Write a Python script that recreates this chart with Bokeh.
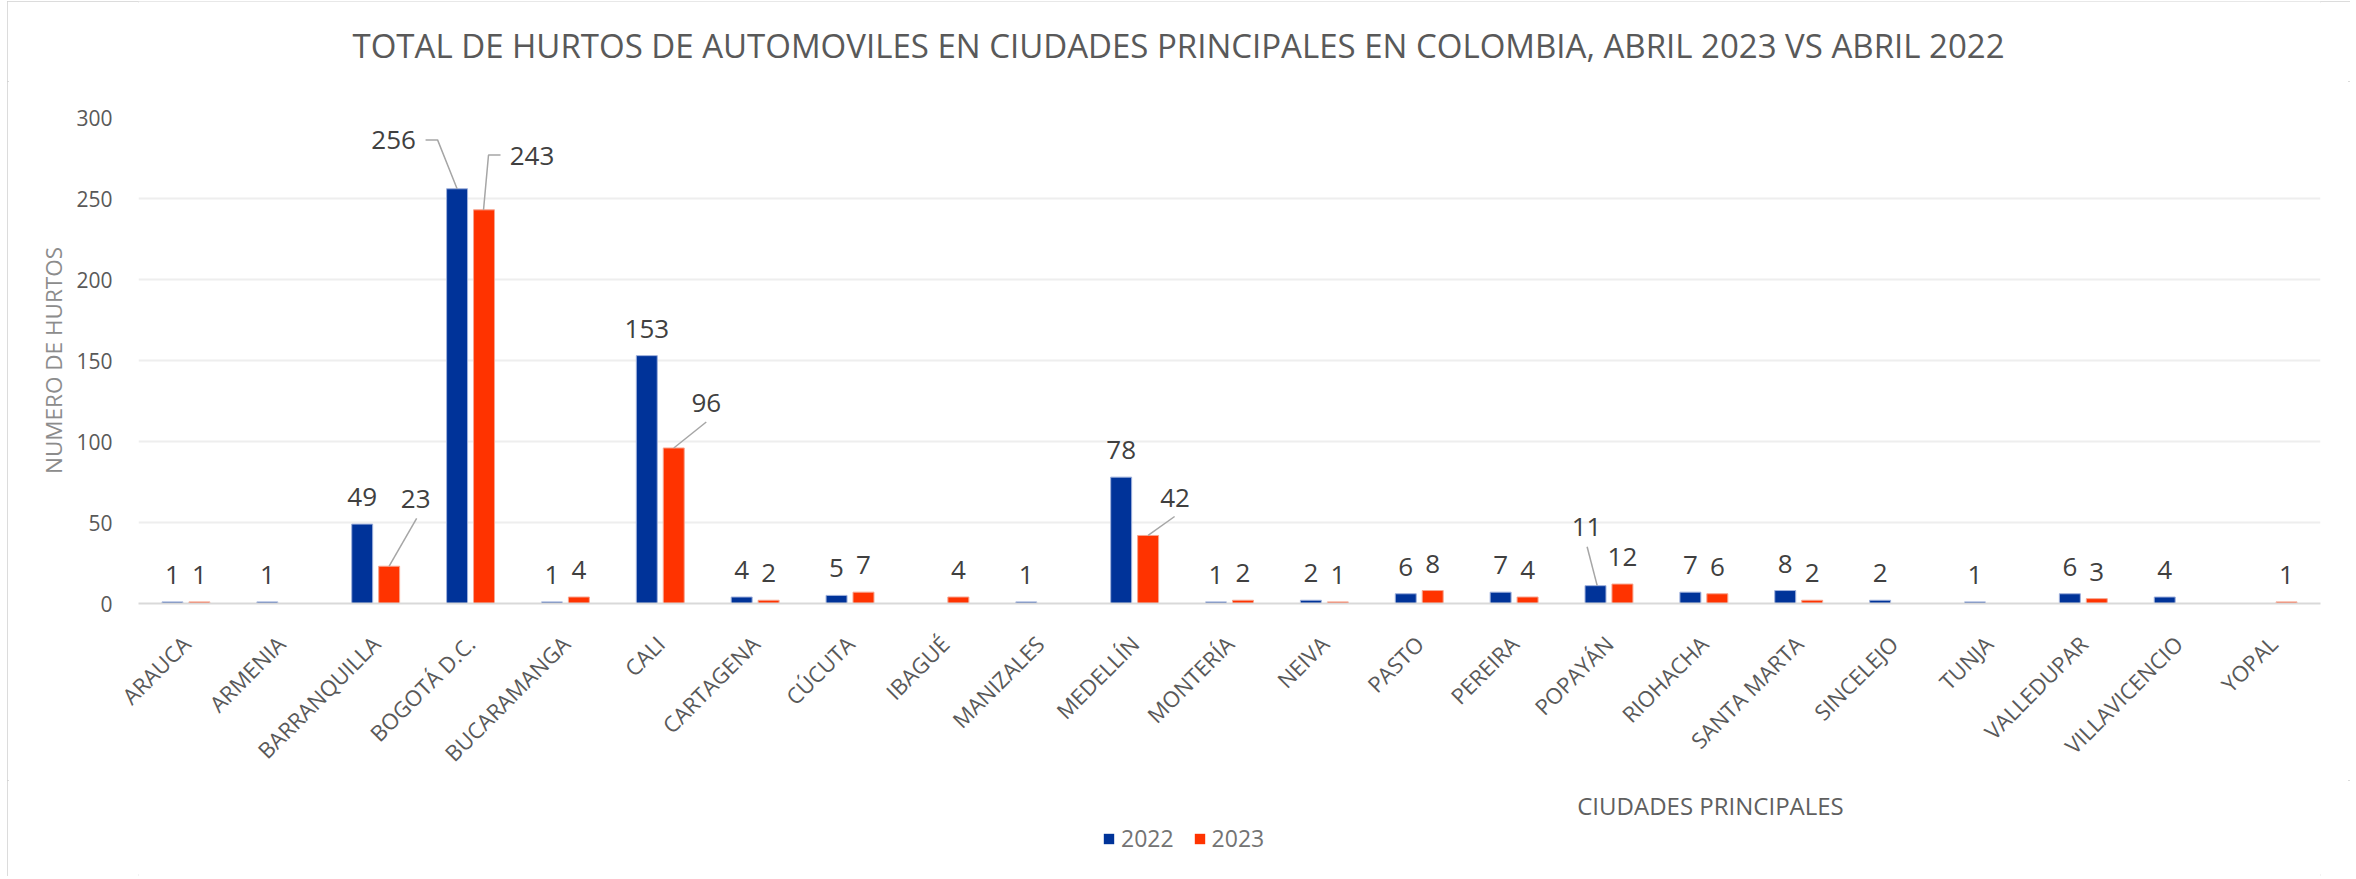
import math
from bokeh.plotting import figure
from bokeh.layouts import column
from bokeh.models import (FactorRange, Range1d, FixedTicker, Legend,
                          LegendItem, ColumnDataSource, Label)
from bokeh.transform import dodge
from bokeh.core.properties import value
from bokeh.embed import file_html
from bokeh.resources import INLINE

# ---------------- data ----------------
cities = ["ARAUCA", "ARMENIA", "BARRANQUILLA", "BOGOTÁ D.C.", "BUCARAMANGA",
          "CALI", "CARTAGENA", "CÚCUTA", "IBAGUÉ", "MANIZALES", "MEDELLÍN",
          "MONTERÍA", "NEIVA", "PASTO", "PEREIRA", "POPAYÁN", "RIOHACHA",
          "SANTA MARTA", "SINCELEJO", "TUNJA", "VALLEDUPAR", "VILLAVICENCIO",
          "YOPAL"]
hurtos_2022 = [1, 1, 49, 256, 1, 153, 4, 5, None, 1, 78, 1, 2, 6, 7, 11, 7, 8,
               2, 1, 6, 4, None]
hurtos_2023 = [1, None, 23, 243, 4, 96, 2, 7, 4, None, 42, 2, 1, 8, 4, 12, 6, 2,
               None, None, 3, None, 1]
years = ["2022", "2023"]
y_ticks = [0, 50, 100, 150, 200, 250, 300]
title_text = ("TOTAL DE HURTOS DE AUTOMOVILES EN CIUDADES PRINCIPALES EN "
              "COLOMBIA, ABRIL 2023 VS ABRIL 2022")
y_title = "NUMERO DE HURTOS"
x_title = "CIUDADES PRINCIPALES"

# ---------------- layout / style ----------------
FONT = "Open Sans"
W = 2343
H0, H, H2 = 80, 699, 96          # title strip, chart, strip below
B_LEFT, B_RIGHT, B_TOP, B_BOTTOM = 131, 30, 36, 176
FRAME_L, FRAME_R = 138, 2320     # page px of the plot frame (shared by strips)
FRAME_W = W - B_LEFT - B_RIGHT
FRAME_H = H - B_TOP - B_BOTTOM
CAT_PX = FRAME_W / len(cities)
Y_MAX = 300
PX_UNIT = FRAME_H / Y_MAX
BAR_W = 0.221
BAR_OFF = {"2022": -0.142, "2023": 0.142}
FILL = {"2022": "#003399", "2023": "#FF3300"}
EDGE = {"2022": "#9fb1dc", "2023": "#f7a58f"}

# labels that were moved with a leader line: (label dx, dy, leader pts) in px
moved = {
    ("BOGOTÁ D.C.", "2022"): (-63.5, -50, [(0, 0), (-19.5, -49), (-31.5, -49)]),
    ("BOGOTÁ D.C.", "2023"): (48, -55, [(-0.5, 0), (4.5, -55), (16.5, -55)]),
    ("CALI", "2023"): (32.5, -46, [(0, 0), (32.5, -26)]),
    ("BARRANQUILLA", "2023"): (26.5, -67.6, [(0, 0), (27.5, -48)]),
    ("MEDELLÍN", "2023"): (27, -38, [(0, 0), (26.5, -19)]),
    ("POPAYÁN", "2022"): (-9, -59, [(1.7, 0), (-8.4, -39)]),
}
BASE_FIX = -8.5
DIGIT_HALF = 9.3 + BASE_FIX
NORMAL_GAP = -18.5 + BASE_FIX


def strip(height):
    f = figure(width=W, height=height, x_range=Range1d(FRAME_L, FRAME_R),
               y_range=Range1d(0, height), output_backend="svg",
               toolbar_location=None, min_border=0,
               x_axis_location=None, y_axis_location=None)
    f.outline_line_color = None
    f.grid.grid_line_color = None
    f.background_fill_color = "white"
    f.border_fill_color = "white"
    return f


# ---------------- title strip ----------------
p0 = strip(H0)
p0.add_layout(Label(x=1178, y=36, text=title_text, text_align="center",
                    text_baseline="middle", text_font=FONT,
                    text_font_size="33px", text_color="#595959"))

# ---------------- chart ----------------
p = figure(x_range=FactorRange(factors=cities), y_range=Range1d(0, Y_MAX),
           width=W, height=H, output_backend="svg", toolbar_location=None,
           min_border_left=B_LEFT, min_border_right=B_RIGHT,
           min_border_top=B_TOP, min_border_bottom=B_BOTTOM)
p.outline_line_color = None
p.background_fill_color = "white"
p.border_fill_color = "white"
p.title.text = ""

renderers = {}
lead_xs, lead_ys = [], []
for yr, vals in zip(years, [hurtos_2022, hurtos_2023]):
    cs = [c for c, v in zip(cities, vals) if v is not None]
    vs = [v for v in vals if v is not None]
    xo, yo = [], []
    for c, v in zip(cs, vs):
        if (c, yr) in moved:
            dx, dy, pts = moved[(c, yr)]
            xo.append(dx)
            yo.append(dy + DIGIT_HALF)
            base = cities.index(c) + 0.5 + BAR_OFF[yr]
            lead_xs.append([base + px / CAT_PX for px, py in pts])
            lead_ys.append([v - py / PX_UNIT for px, py in pts])
        else:
            xo.append(0)
            yo.append(NORMAL_GAP)
    src = ColumnDataSource(dict(city=cs, val=vs, label=[str(v) for v in vs],
                                xo=xo, yo=yo))
    r = p.vbar(x=dodge("city", BAR_OFF[yr], range=p.x_range), top="val",
               width=BAR_W, source=src, fill_color=FILL[yr],
               line_color=EDGE[yr], line_width=1)
    renderers[yr] = r
    p.text(x=dodge("city", BAR_OFF[yr], range=p.x_range), y="val",
           text="label", x_offset="xo", y_offset="yo", source=src,
           text_align="center", text_baseline="alphabetic",
           text_font=value(FONT), text_font_size="26px", text_color="#404040")

p.multi_line(xs=lead_xs, ys=lead_ys, line_color="#a6a6a6", line_width=1.5)

p.xgrid.grid_line_color = None
p.ygrid.grid_line_color = "#eeeeee"
p.ygrid.grid_line_width = 2
p.yaxis.ticker = FixedTicker(ticks=y_ticks)

xa = p.xaxis[0]
xa.major_label_orientation = math.pi / 4
xa.major_label_text_font = FONT
xa.major_label_text_font_size = "22px"
xa.major_label_text_color = "#595959"
xa.major_label_standoff = 30
xa.major_tick_line_color = None
xa.minor_tick_line_color = None
xa.axis_line_color = "#d9d9d9"
xa.axis_line_width = 2

ya = p.yaxis[0]
ya.axis_line_color = None
ya.major_tick_line_color = None
ya.minor_tick_line_color = None
ya.major_label_text_font = FONT
ya.major_label_text_font_size = "21px"
ya.major_label_text_color = "#595959"
ya.major_label_standoff = 20
ya.axis_label = y_title
ya.axis_label_text_font = FONT
ya.axis_label_text_font_size = "22.5px"
ya.axis_label_text_font_style = "normal"
ya.axis_label_text_color = "#8c8c8c"
ya.axis_label_standoff = 4

# ---------------- strip below: axis title and legend ----------------
p2 = strip(H2)
p2.add_layout(Label(x=1710, y=71, text=x_title, text_align="center",
                    text_baseline="middle", text_font=FONT,
                    text_font_size="24px", text_color="#5f5f5f"))

nan = float("nan")
key = {yr: p2.vbar(x=[nan], top=[nan], width=1, fill_color=FILL[yr],
                   line_color=None) for yr in years}
legend = Legend(items=[LegendItem(label=yr, renderers=[key[yr]]) for yr in years],
                location=(1102 - FRAME_L, 22), orientation="horizontal",
                glyph_width=13, glyph_height=13, label_standoff=6, spacing=19,
                padding=0, margin=0, border_line_color=None,
                background_fill_alpha=0, label_text_font=FONT,
                label_text_font_size="23px", label_text_color="#737373")
p2.add_layout(legend)

lay = column(p0, p, p2, spacing=0)
lay.styles = {"margin-left": "7px", "margin-top": "1px",
              "outline": "2px solid #d0d0d0", "outline-offset": "-2px"}

open("out.html", "w").write(file_html(lay, INLINE))
